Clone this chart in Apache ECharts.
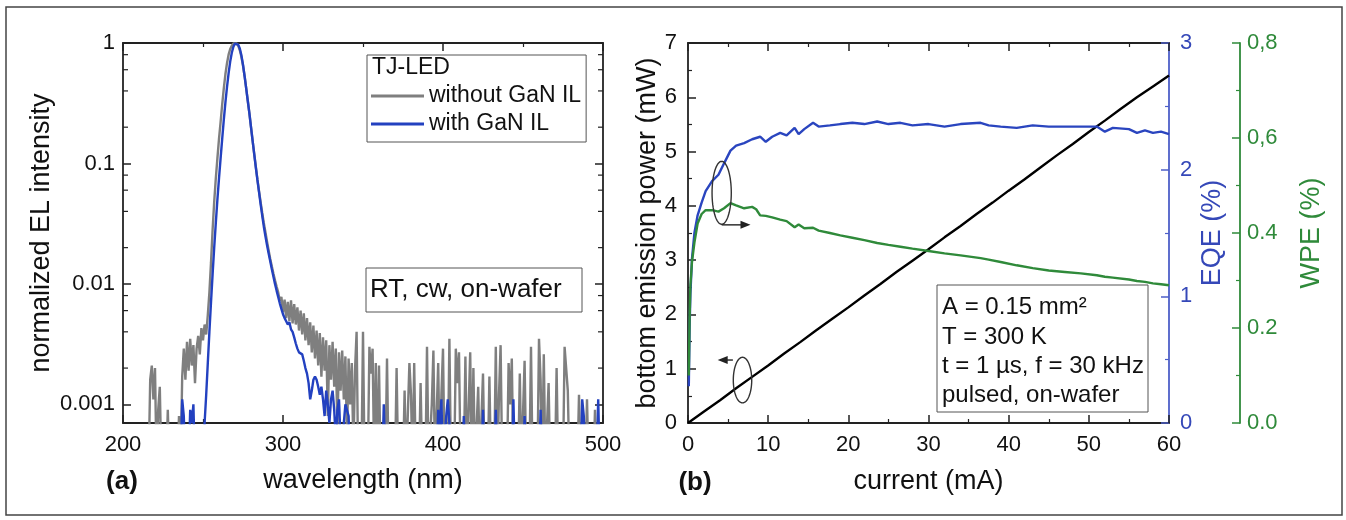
<!DOCTYPE html>
<html>
<head>
<meta charset="utf-8">
<script src="https://cdn.jsdelivr.net/npm/echarts@6/dist/echarts.min.js"></script>
<style>
html,body{margin:0;padding:0;background:#fff;}
#main{width:1346px;height:520px;}
</style>
</head>
<body>
<div id="main"></div>
<script>
// ---------- Panel (a): EL spectra ----------
const grayWavelength = [214,216,217,218,219,220,221,222,223,224,227,228,229,234,235,236,237,238,239,240,241,242,243,244,245,246,247,248,249,250,251,252,253,254,255,256,257,258,259,260,261,262,263,264,265,266,267,268,269,270,271,272,273,274,275,276,277,278,279,280,281,282,283,284,285,286,287,288,289,290,291,292,293,294,295,296,297,298,299,300,301,302,303,304,305,306,307,308,309,310,311,312,313,314,315,316,317,318,319,320,321,322,323,324,325,326,327,328,329,330,331,332,333,334,335,336,337,338,339,340,341,342,343,344,345,346,347,349,350,351,353,354,355,356,357,358,359,360,361,364,365,366,370,371,372,375,376,377,378,379,380,381,382,383,385,386,387,389,390,391,393,394,395,396,397,398,399,400,401,403,404,405,407,408,409,410,411,413,414,415,416,417,418,419,420,421,422,423,424,425,426,428,429,430,432,433,434,435,436,437,440,441,442,443,444,447,448,449,450,451,452,454,455,456,459,460,461,462,463,464,465,466,467,470,471,472,475,476,477,478,479,484,485,486,489,490,491,494,495,496,500];
const grayIntensity = [0.0003,0.0003,0.0016,0.0021,0.0011,0.0020,0.0003,0.0009,0.0014,0.0003,0.0003,0.0009,0.0003,0.0003,0.0008,0.0003,0.0017,0.0029,0.0016,0.0033,0.0019,0.0035,0.0021,0.0031,0.0015,0.0029,0.0037,0.0026,0.0043,0.0034,0.0046,0.0038,0.0055,0.0085,0.015,0.028,0.048,0.075,0.11,0.16,0.22,0.31,0.42,0.55,0.68,0.80,0.89,0.95,0.99,1.0,0.99,0.95,0.87,0.77,0.65,0.53,0.42,0.33,0.26,0.20,0.155,0.12,0.094,0.074,0.059,0.048,0.039,0.032,0.027,0.0225,0.019,0.0162,0.014,0.0122,0.0107,0.0095,0.0085,0.0072,0.0078,0.0058,0.0074,0.0052,0.0071,0.0049,0.0073,0.0047,0.0068,0.0046,0.0064,0.0041,0.0060,0.0038,0.0057,0.0034,0.0052,0.0031,0.0048,0.0027,0.0045,0.0024,0.0041,0.0021,0.0039,0.0017,0.0036,0.0019,0.0034,0.0008,0.0031,0.0016,0.0033,0.0014,0.0029,0.0006,0.0027,0.0013,0.0028,0.0011,0.0025,0.0005,0.0024,0.0010,0.0022,0.0004,0.0019,0.0040,0.0003,0.0003,0.0040,0.0003,0.0003,0.0030,0.0018,0.0029,0.0003,0.0022,0.0003,0.0021,0.0003,0.0003,0.0024,0.0003,0.0003,0.0020,0.0003,0.0003,0.0013,0.0003,0.0003,0.0022,0.0012,0.0003,0.0022,0.0003,0.0003,0.0015,0.0003,0.0003,0.0030,0.0003,0.0010,0.0028,0.0003,0.0003,0.0022,0.0003,0.0012,0.0029,0.0003,0.0003,0.0035,0.0003,0.0003,0.0029,0.0015,0.0027,0.0003,0.0003,0.0025,0.0003,0.0003,0.0027,0.0003,0.0020,0.0003,0.0003,0.0014,0.0003,0.0003,0.0018,0.0003,0.0003,0.0017,0.0003,0.0003,0.0030,0.0003,0.0012,0.0031,0.0003,0.0003,0.0022,0.0010,0.0024,0.0003,0.0003,0.0018,0.0003,0.0003,0.0023,0.0003,0.0003,0.0030,0.0003,0.0003,0.0035,0.0016,0.0003,0.0026,0.0003,0.0003,0.0015,0.0003,0.0003,0.0020,0.0003,0.0003,0.0030,0.0030,0.0013,0.0003,0.0003,0.0012,0.0003,0.0003,0.0011,0.0003,0.0003,0.0009,0.0003,0.0003];

const blueWavelength = [233,236,237,238,239,241,242,243,244,245,250,251,252,253,254,255,256,257,258,259,260,261,262,263,264,265,266,267,268,269,270,271,272,273,274,275,276,277,278,279,280,281,282,283,284,285,286,287,288,289,290,291,292,293,294,295,296,297,298,299,300,301,302,303,304,305,306,307,308,309,310,311,312,313,314,315,316,317,318,319,320,321,322,323,324,325,326,327,328,329,330,331,332,333,334,335,336,337,338,339,340,341,342,362,363,364,396,397,398,399,400,401,402,403,404,405,412,413,414,424,425,426,432,433,434,443,444,445,450,451,452,460,461,462,486,487,488,489,496,497,498,500];
const blueIntensity = [0.0003,0.0003,0.0011,0.0008,0.0003,0.0003,0.0009,0.0007,0.0010,0.0003,0.0003,0.0007,0.0012,0.0022,0.004,0.007,0.012,0.02,0.032,0.05,0.075,0.11,0.16,0.23,0.32,0.43,0.56,0.70,0.83,0.93,0.99,1.0,0.97,0.90,0.79,0.66,0.53,0.42,0.33,0.26,0.20,0.155,0.12,0.093,0.073,0.058,0.046,0.037,0.030,0.025,0.021,0.018,0.0155,0.0133,0.0115,0.0100,0.0088,0.0078,0.0069,0.0062,0.0056,0.0052,0.0049,0.0046,0.0048,0.0042,0.0040,0.0036,0.0032,0.0029,0.0027,0.0028,0.0026,0.0023,0.0020,0.0018,0.0015,0.0011,0.0013,0.0016,0.0017,0.0016,0.0014,0.0012,0.0014,0.0011,0.0008,0.0013,0.0010,0.0007,0.0011,0.0013,0.0009,0.0005,0.0009,0.0011,0.0005,0.0003,0.0007,0.0010,0.0010,0.0008,0.0003,0.0003,0.0010,0.0003,0.0003,0.0009,0.0006,0.0011,0.0003,0.0003,0.0008,0.0011,0.0007,0.0003,0.0003,0.0008,0.0003,0.0003,0.0009,0.0003,0.0003,0.0009,0.0003,0.0003,0.0011,0.0003,0.0003,0.0008,0.0003,0.0003,0.0009,0.0003,0.0003,0.0011,0.0008,0.0003,0.0003,0.0011,0.0003,0.0003];

const intensityTickLabels = ['0.001', '0.01', '0.1', '1'];
const intensityMinorTicks = [0.002,0.004,0.006,0.008,0.02,0.04,0.06,0.08,0.2,0.4,0.6,0.8];

// ---------- Panel (b): LIV ----------
const powerCurrent = [0,2,4,6,8,10,12,14,16,18,20,22,24,26,28,30,32,34,36,38,40,42,44,46,48,50,52,54,56,58,60];
const powerValues = [0,0.21,0.42,0.64,0.85,1.06,1.28,1.49,1.71,1.92,2.13,2.35,2.56,2.78,2.99,3.20,3.42,3.63,3.85,4.06,4.28,4.49,4.71,4.93,5.14,5.36,5.57,5.79,6.00,6.20,6.40];

const effCurrent = [0.1,0.2,0.3,0.5,0.8,1.2,1.7,2.2,3.0,3.8,4.5,5.3,6.0,7.0,8.0,8.5,9.0,9.7,10.5,11.5,12.3,13.3,13.8,14.5,15.6,16.3,17.7,19.0,20.5,22.0,23.6,25.0,26.5,28.0,30.0,32.0,34.0,36.5,37.5,39.0,41.0,43.0,45.0,47.0,49.0,51.0,52.0,53.0,55.0,56.0,57.0,58.0,59.0,60.0];
const eqeValues = [0.29,0.75,1.02,1.30,1.50,1.64,1.74,1.83,1.91,1.96,2.05,2.15,2.19,2.21,2.24,2.25,2.26,2.22,2.26,2.29,2.27,2.33,2.28,2.32,2.37,2.34,2.35,2.36,2.37,2.36,2.38,2.36,2.37,2.35,2.36,2.34,2.36,2.37,2.35,2.34,2.33,2.35,2.34,2.34,2.34,2.34,2.30,2.33,2.32,2.29,2.31,2.29,2.30,2.28];
const wpeValues = [0.10,0.22,0.29,0.34,0.38,0.42,0.44,0.448,0.448,0.445,0.452,0.463,0.458,0.452,0.455,0.45,0.437,0.436,0.433,0.428,0.425,0.412,0.418,0.410,0.411,0.405,0.400,0.395,0.390,0.385,0.379,0.375,0.371,0.367,0.362,0.357,0.353,0.347,0.344,0.339,0.332,0.326,0.321,0.318,0.315,0.311,0.308,0.306,0.302,0.299,0.297,0.294,0.292,0.290];

const wpeTickLabels = {'0': '0.0', '0.2': '0.2', '0.4': '0.4', '0.6': '0,6', '0.8': '0,8'};

const legendNames = ['without GaN IL', 'with GaN IL'];
const infoLines = ['A = 0.15 mm\u00B2', 'T = 300 K', 't = 1 \u00B5s, f = 30 kHz', 'pulsed, on-wafer'];

// ---------- styles ----------
const FONT = 'Liberation Sans, Arial, Helvetica, sans-serif';
const FRAME = '#222';
const GRAY = '#7f7f7f';
const BLUE = '#2341c0';
const EQE_AXIS = '#4d5fc8';
const GREEN = '#2f8a3a';

function pairs(xs, ys) { return xs.map((x, i) => [x, ys[i]]); }

function isDecade(v) {
  const l = Math.log10(v);
  return Math.abs(l - Math.round(l)) < 1e-6;
}

const tickIn = (len) => ({ show: true, inside: true, length: len || 8, lineStyle: { color: FRAME, width: 1.5 } });
const minorIn = (n, color) => ({ show: true, splitNumber: n, length: 4, lineStyle: { color: color || FRAME, width: 1.2 } });

const chart = echarts.init(document.getElementById('main'), null, { renderer: 'canvas' });

const option = {
  animation: false,
  backgroundColor: '#ffffff',
  textStyle: { fontFamily: FONT },
  grid: [
    { left: 123, top: 43, width: 480, height: 380 },
    { left: 688, top: 43, width: 481, height: 380 }
  ],
  legend: {
    data: legendNames,
    orient: 'vertical',
    left: 367, top: 55,
    padding: [29, 5, 6, 4],
    itemWidth: 53, itemHeight: 3, itemGap: 4,
    icon: 'rect',
    borderColor: '#555', borderWidth: 1,
    textStyle: { fontSize: 23, lineHeight: 24, color: '#111', fontFamily: FONT },
    selectedMode: false
  },
  xAxis: [
    { gridIndex: 0, type: 'value', min: 200, max: 500, interval: 100, position: 'bottom',
      name: 'wavelength (nm)', nameLocation: 'middle', nameGap: 44,
      nameTextStyle: { fontSize: 27, color: '#111', fontFamily: FONT },
      axisLine: { show: true, lineStyle: { color: FRAME, width: 1.8 } },
      axisTick: tickIn(8), minorTick: minorIn(2),
      axisLabel: { fontSize: 22, color: '#111', margin: 11, fontFamily: FONT },
      splitLine: { show: false } },
    { gridIndex: 0, type: 'value', min: 200, max: 500, interval: 100, position: 'top',
      axisLine: { show: true, onZero: false, lineStyle: { color: FRAME, width: 1.8 } },
      axisTick: tickIn(8), minorTick: minorIn(2),
      axisLabel: { show: false }, splitLine: { show: false } },
    { gridIndex: 1, type: 'value', min: 0, max: 60, interval: 10, position: 'bottom',
      name: 'current (mA)', nameLocation: 'middle', nameGap: 45,
      nameTextStyle: { fontSize: 27, color: '#111', fontFamily: FONT },
      axisLine: { show: true, onZero: false, lineStyle: { color: FRAME, width: 1.8 } },
      axisTick: tickIn(8), minorTick: minorIn(2),
      axisLabel: { fontSize: 22, color: '#111', margin: 11, fontFamily: FONT },
      splitLine: { show: false } },
    { gridIndex: 1, type: 'value', min: 0, max: 60, interval: 10, position: 'top',
      axisLine: { show: true, onZero: false, lineStyle: { color: FRAME, width: 1.8 } },
      axisTick: tickIn(8), minorTick: minorIn(2),
      axisLabel: { show: false }, splitLine: { show: false } }
  ],
  yAxis: [
    { gridIndex: 0, type: 'log', logBase: 10, min: 0.0007, max: 1, position: 'left',
      name: 'normalized EL intensity', nameLocation: 'middle', nameGap: 68,
      nameTextStyle: { fontSize: 27, color: '#111', fontFamily: FONT },
      axisLine: { show: true, lineStyle: { color: FRAME, width: 1.8 } },
      axisTick: tickIn(8),
      axisLabel: { fontSize: 22, color: '#111', margin: 8, fontFamily: FONT,
        formatter: (v) => isDecade(v) ? intensityTickLabels[Math.round(Math.log10(v)) + 3] : '' },
      splitLine: { show: false } },
    { gridIndex: 0, type: 'log', logBase: 10, min: 0.0007, max: 1, position: 'right',
      axisLine: { show: true, lineStyle: { color: FRAME, width: 1.8 } },
      axisTick: tickIn(8),
      axisLabel: { show: false }, splitLine: { show: false } },
    { gridIndex: 1, type: 'value', min: 0, max: 7, interval: 1, position: 'left',
      name: 'bottom emission power (mW)', nameLocation: 'middle', nameGap: 26,
      nameTextStyle: { fontSize: 27, color: '#111', fontFamily: FONT },
      axisLine: { show: true, onZero: false, lineStyle: { color: FRAME, width: 1.8 } },
      axisTick: tickIn(8), minorTick: minorIn(2),
      axisLabel: { fontSize: 22, color: '#111', margin: 11, fontFamily: FONT },
      splitLine: { show: false } },
    { gridIndex: 1, type: 'value', min: 0, max: 3, interval: 1, position: 'right',
      name: 'EQE (%)', nameLocation: 'middle', nameGap: 30,
      nameTextStyle: { fontSize: 27, color: '#3548b8', fontFamily: FONT },
      axisLine: { show: true, onZero: false, lineStyle: { color: EQE_AXIS, width: 1.8 } },
      axisTick: { show: true, inside: true, length: 8, lineStyle: { color: EQE_AXIS, width: 1.5 } },
      minorTick: minorIn(2, EQE_AXIS),
      axisLabel: { fontSize: 22, color: '#3548b8', margin: 11, fontFamily: FONT },
      splitLine: { show: false } },
    { gridIndex: 1, type: 'value', min: 0, max: 0.8, interval: 0.2, position: 'right', offset: 71,
      name: 'WPE (%)', nameLocation: 'middle', nameGap: 58,
      nameTextStyle: { fontSize: 27, color: GREEN, fontFamily: FONT },
      axisLine: { show: true, onZero: false, lineStyle: { color: GREEN, width: 1.8 } },
      axisTick: { show: true, inside: true, length: 8, lineStyle: { color: GREEN, width: 1.5 } },
      minorTick: minorIn(2, GREEN),
      axisLabel: { fontSize: 22, color: GREEN, margin: 7, fontFamily: FONT,
        formatter: (v) => wpeTickLabels[String(Math.round(v * 10) / 10)] || v.toFixed(1) },
      splitLine: { show: false } }
  ],
  series: [
    { name: legendNames[0], type: 'line', xAxisIndex: 0, yAxisIndex: 0, data: pairs(grayWavelength, grayIntensity),
      showSymbol: false, symbol: 'none', color: GRAY, lineStyle: { color: GRAY, width: 2.4 }, z: 2 },
    { name: legendNames[1], type: 'line', xAxisIndex: 0, yAxisIndex: 0, data: pairs(blueWavelength, blueIntensity),
      showSymbol: false, symbol: 'none', color: BLUE, lineStyle: { color: BLUE, width: 2.4 }, z: 3 },
    { name: 'power', type: 'line', xAxisIndex: 2, yAxisIndex: 2, data: pairs(powerCurrent, powerValues),
      showSymbol: false, symbol: 'none', color: '#000', lineStyle: { color: '#000', width: 2.4 }, z: 3 },
    { name: 'EQE', type: 'line', xAxisIndex: 2, yAxisIndex: 3, data: pairs(effCurrent, eqeValues),
      showSymbol: false, symbol: 'none', color: BLUE, lineStyle: { color: '#2a45bf', width: 2.4 }, z: 3 },
    { name: 'WPE', type: 'line', xAxisIndex: 2, yAxisIndex: 4, data: pairs(effCurrent, wpeValues),
      showSymbol: false, symbol: 'none', color: GREEN, lineStyle: { color: GREEN, width: 2.4 }, z: 3 }
  ]
};
chart.setOption(option);

// ---------- annotations (positioned through the axes) ----------
function px(xIdx, yIdx, x, y) { return chart.convertToPixel({ xAxisIndex: xIdx, yAxisIndex: yIdx }, [x, y]); }

function ellipse(xc, yc, dx, dy) {
  const c = px(2, 2, xc, yc);
  const e = px(2, 2, xc + dx, yc + dy);
  const rx = Math.abs(e[0] - c[0]), ry = Math.abs(e[1] - c[1]);
  const pts = [];
  for (let k = 0; k < 64; k++) {
    const a = k / 64 * Math.PI * 2;
    pts.push([c[0] + rx * Math.cos(a), c[1] + ry * Math.sin(a)]);
  }
  return { type: 'polygon', shape: { points: pts }, style: { fill: 'none', stroke: '#333', lineWidth: 1.4 }, silent: true, z: 10 };
}
function arrow(x0, x1, y) {
  const a = px(2, 2, x0, y), b = px(2, 2, x1, y);
  const dir = b[0] > a[0] ? 1 : -1;
  return [
    { type: 'line', shape: { x1: a[0], y1: a[1], x2: b[0] - dir * 6, y2: b[1] }, style: { stroke: '#222', lineWidth: 1.4 }, silent: true, z: 10 },
    { type: 'polygon', shape: { points: [[b[0], b[1]], [b[0] - dir * 10, b[1] - 4], [b[0] - dir * 10, b[1] + 4]] }, style: { fill: '#222' }, silent: true, z: 10 }
  ];
}

const graphics = [
  { type: 'rect', shape: { x: 6, y: 7, width: 1336, height: 508 }, style: { fill: 'none', stroke: '#444', lineWidth: 1.5 }, silent: true, z: 0 },
  { type: 'text', style: { text: 'TJ-LED', x: 372, y: 68, font: '23px ' + FONT, fill: '#111', textVerticalAlign: 'middle', verticalAlign: 'middle' }, silent: true, z: 10 },
  { type: 'rect', shape: { x: 366, y: 268, width: 216, height: 44 }, style: { fill: '#fff', stroke: '#555', lineWidth: 1 }, silent: true, z: 9 },
  { type: 'text', style: { text: 'RT, cw, on-wafer', x: 370, y: 290, font: '26px ' + FONT, fill: '#111', textVerticalAlign: 'middle', verticalAlign: 'middle' }, silent: true, z: 10 },
  { type: 'rect', shape: { x: 937, y: 285, width: 211, height: 127 }, style: { fill: '#fff', stroke: '#555', lineWidth: 1 }, silent: true, z: 9 },
  { type: 'text', style: { text: '(a)', x: 122, y: 482, font: 'bold 26px ' + FONT, fill: '#111', textAlign: 'center', align: 'center', textVerticalAlign: 'middle', verticalAlign: 'middle' }, silent: true, z: 10 },
  { type: 'text', style: { text: '(b)', x: 695, y: 483, font: 'bold 26px ' + FONT, fill: '#111', textAlign: 'center', align: 'center', textVerticalAlign: 'middle', verticalAlign: 'middle' }, silent: true, z: 10 }
];
const lineYs = [307, 337, 366, 395];
infoLines.forEach((t, i) => graphics.push({ type: 'text', style: { text: t, x: 942, y: lineYs[i], font: '24px ' + FONT, fill: '#111', textVerticalAlign: 'middle', verticalAlign: 'middle' }, silent: true, z: 10 }));

// minor ticks of the logarithmic intensity axis (2, 4, 6, 8 per decade), placed via the axis scale
intensityMinorTicks.forEach((v) => {
  const l = px(0, 0, 200, v), r = px(0, 0, 500, v);
  graphics.push({ type: 'line', shape: { x1: l[0], y1: l[1], x2: l[0] + 5, y2: l[1] }, style: { stroke: FRAME, lineWidth: 1.2 }, silent: true, z: 5 });
  graphics.push({ type: 'line', shape: { x1: r[0], y1: r[1], x2: r[0] - 5, y2: r[1] }, style: { stroke: FRAME, lineWidth: 1.2 }, silent: true, z: 5 });
});

graphics.push(ellipse(4.2, 4.24, 1.2, 0.58));
graphics.push(...arrow(4.2, 7.8, 3.65));
graphics.push(ellipse(6.8, 0.79, 1.15, 0.42));
graphics.push(...arrow(5.6, 3.7, 1.16));

chart.setOption({ graphic: graphics });
</script>
</body>
</html>
